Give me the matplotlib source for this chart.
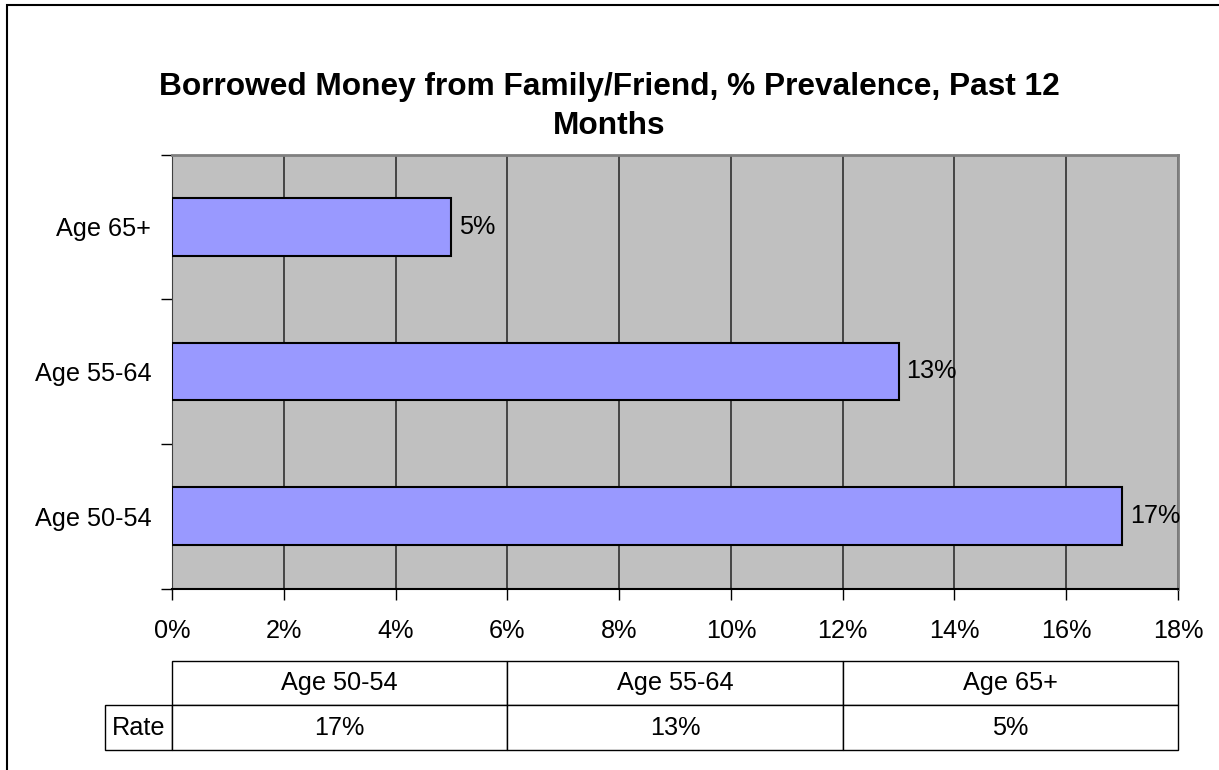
import matplotlib.pyplot as plt
from matplotlib.patches import Rectangle
from matplotlib.table import Table
from matplotlib.ticker import PercentFormatter

plt.rcParams['font.family'] = ['Liberation Sans', 'DejaVu Sans']

categories = ["Age 50-54", "Age 55-64", "Age 65+"]
rates = [0.17, 0.13, 0.05]
rate_labels = ["17%", "13%", "5%"]
x_ticks = [0, 0.02, 0.04, 0.06, 0.08, 0.10, 0.12, 0.14, 0.16, 0.18]

W, H = 1219, 770
fs = 18.2
fig = plt.figure(figsize=(W / 100, H / 100), dpi=100)

# outer chart border (Excel style)
fig.patches.append(Rectangle((7 / W, -0.1), 1.2, 1 - 4.5 / H + 0.1, transform=fig.transFigure,
                             fill=False, edgecolor='black', linewidth=1.5))

left, right, top, bottom = 172, 1178, 154.5, 588.5
ax = fig.add_axes([left / W, 1 - bottom / H, (right - left) / W, (bottom - top) / H])
ax.set_facecolor('#C0C0C0')

ypos = list(range(len(categories)))
bars = ax.barh(ypos, rates, height=0.4, color='#9999FF', edgecolor='black', linewidth=1.5, zorder=3)
ax.bar_label(bars, labels=rate_labels, padding=5.5, fontsize=fs)

ax.set_xlim(0, 0.18)
ax.set_ylim(-0.5, 2.5)
ax.set_xticks(x_ticks)
ax.xaxis.set_major_formatter(PercentFormatter(1.0, decimals=0))
ax.grid(axis='x', color='#3a3a3a', linewidth=1.3, zorder=1)
ax.tick_params(axis='x', direction='out', length=8, width=1, color='black', pad=14, labelsize=fs)

ax.set_yticks(ypos)
ax.set_yticklabels(categories)
ax.tick_params(axis='y', which='major', length=0, pad=15, labelsize=fs)
ax.set_yticks([-0.5, 0.5, 1.5, 2.5], minor=True)
ax.tick_params(axis='y', which='minor', direction='out', length=8, width=1, color='black')

ax.spines['top'].set_color('#808080')
ax.spines['right'].set_color('#808080')
ax.spines['top'].set_linewidth(2)
ax.spines['right'].set_linewidth(2)
ax.spines['left'].set_color('#404040')
ax.spines['bottom'].set_color('black')
ax.spines['bottom'].set_linewidth(1.5)

# data table under the chart (bbox covers the data columns, row label sits to the left)
plot_w = right - left
plot_h = bottom - top
label_w = (left - 105) / plot_w
tbl = Table(ax, bbox=[0, (bottom - 750) / plot_h, 1, (750 - 660.5) / plot_h])
tbl.add_cell(1, -1, width=label_w, height=0.5, text="Rate", loc='center')
for j, cat in enumerate(categories):
    tbl.add_cell(0, j, width=1 / 3, height=0.5, text=cat, loc='center')
    tbl.add_cell(1, j, width=1 / 3, height=0.5, text=rate_labels[j], loc='center')
tbl.auto_set_font_size(False)
tbl.set_fontsize(fs)
for (r, c), cell in tbl.get_celld().items():
    cell.set_edgecolor('black')
    cell.set_linewidth(1)
    cell.PAD = 0.02
ax.add_table(tbl)

fig.text(0.5, 1 - 106.5 / H, "Borrowed Money from Family/Friend, % Prevalence, Past 12\nMonths",
         ha='center', va='center', fontsize=22.8, fontweight='bold', linespacing=1.42)

fig.savefig("out.png", dpi=100)
